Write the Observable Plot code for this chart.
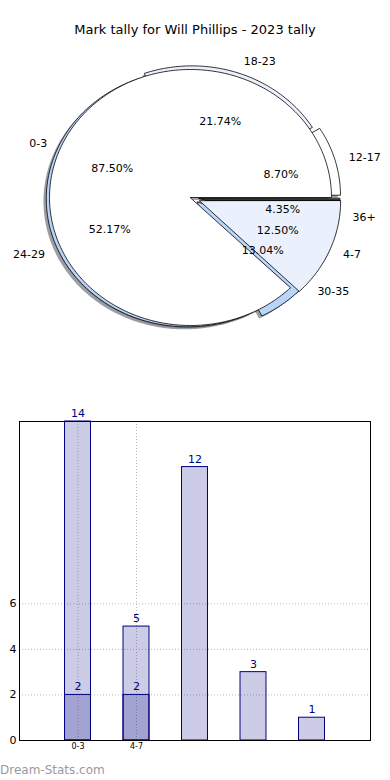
<!DOCTYPE html>
<html>
<head>
<meta charset="utf-8">
<script src="https://cdn.jsdelivr.net/npm/d3@7"></script>
<script src="https://cdn.jsdelivr.net/npm/@observablehq/plot@0.6"></script>
<style>
  html, body { margin: 0; padding: 0; background: #fff; }
  body { width: 390px; height: 780px; overflow: hidden; font-family: "DejaVu Sans", sans-serif; }
  #title { box-sizing: border-box; height: 40px; padding-top: 22px; line-height: 16px; font-size: 13px; text-align: center; color: #000; }
  #footer { height: 20px; line-height: 20px; font-size: 12px; color: #9a9a9a; padding-left: 0; }
  svg { display: block; }
</style>
</head>
<body>
<div id="title">Mark tally for Will Phillips - 2023 tally</div>
<div id="pie"></div>
<div id="bars"></div>
<div id="footer">Dream-Stats.com</div>
<script>
// ---- data ----
const pieACategories = ["0-3", "4-7"];
const pieAValues = [14, 2];
const pieBCategories = ["12-17", "18-23", "24-29", "30-35", "36+"];
const pieBValues = [2, 5, 12, 3, 1];

const barValues = [14, 5, 12, 3, 1];
const barValuesInner = [2, 2];
const barTickLabels = ["0-3", "4-7"];
const yTickValues = [0, 2, 4, 6];

// ---- styles ----
const pieAColors = ["#ffffff", "#eaf1fd"];
const pieBColors = ["#ffffff", "#eaf1fd", "#b9d5f9", "#b9d5f9", "#333333"];
const pieAExplode = [0, 0.07];
const pieBExplode = [0.066, 0.03, 0.025, 0.06, 0.06];

function slices(cats, vals, colors, explode) {
  const total = d3.sum(vals);
  let cum = 0;
  return vals.map((v, i) => {
    const a1 = cum / total * 2 * Math.PI;
    cum += v;
    const a2 = cum / total * 2 * Math.PI;
    const mid = (a1 + a2) / 2;
    const cx = explode[i] * Math.cos(mid), cy = explode[i] * Math.sin(mid);
    const pts = [{x: cx, y: cy}];
    const n = Math.max(2, Math.ceil((a2 - a1) / (Math.PI / 180)));
    for (let k = 0; k <= n; k++) {
      const a = a1 + (a2 - a1) * k / n;
      pts.push({x: cx + Math.cos(a), y: cy + Math.sin(a)});
    }
    return {
      cat: cats[i], value: v, pct: (v / total * 100).toFixed(2) + "%",
      color: colors[i], pts,
      lx: cx + 1.1 * Math.cos(mid), ly: cy + 1.1 * Math.sin(mid),
      px: cx + 0.6 * Math.cos(mid), py: cy + 0.6 * Math.sin(mid),
      side: Math.cos(mid) < 0 ? "end" : "start"
    };
  });
}

const sA = slices(pieACategories, pieAValues, pieAColors, pieAExplode);
const sB = slices(pieBCategories, pieBValues, pieBColors, pieBExplode);
const all = [...sB, ...sA];

function shadeColor(c) {
  const r = d3.rgb(c);
  return d3.rgb(r.r * 0.3, r.g * 0.3, r.b * 0.3).toString();
}

const pieMarks = [];
// shadows beneath everything
for (const s of all) {
  pieMarks.push(Plot.line(s.pts, {
    x: d => d.x - 0.02, y: d => d.y - 0.02, curve: "linear-closed",
    fill: shadeColor(s.color), fillOpacity: 0.5, stroke: "none"
  }));
}
// wedges: second pie first, then first pie on top
for (const s of all) {
  pieMarks.push(Plot.line(s.pts, {
    x: "x", y: "y", curve: "linear-closed",
    fill: s.color, stroke: "#000", strokeWidth: 0.8, strokeLinejoin: "miter"
  }));
}
pieMarks.push(Plot.text(all.filter(s => s.side === "start"), {x: "lx", y: "ly", text: "cat", textAnchor: "start", fontSize: 11, fill: "#000"}));
pieMarks.push(Plot.text(all.filter(s => s.side === "end"), {x: "lx", y: "ly", text: "cat", textAnchor: "end", fontSize: 11, fill: "#000"}));
pieMarks.push(Plot.text(all, {x: "px", y: "py", text: "pct", textAnchor: "middle", fontSize: 11, fill: "#000"}));

const pie = Plot.plot({
  width: 390, height: 340,
  marginTop: 0, marginBottom: 0, marginLeft: 0, marginRight: 0,
  x: {domain: [-190 / 141, 200 / 141], axis: null},
  y: {domain: [-(340 - 157) / 128, 157 / 128], axis: null},
  style: {fontFamily: "DejaVu Sans", background: "#fff", overflow: "visible"},
  marks: pieMarks
});
document.getElementById("pie").appendChild(pie);

// ---- bar chart ----
const outer = barValues.map((v, i) => ({pos: i + 1, value: v}));
const inner = barValuesInner.map((v, i) => ({pos: i + 1, value: v}));
const hw = 0.222;

const bars = Plot.plot({
  width: 390, height: 380,
  marginTop: 41, marginBottom: 20, marginLeft: 19, marginRight: 20,
  x: {domain: [0, 6]},
  y: {domain: [0, 14]},
  style: {fontFamily: "DejaVu Sans", background: "#fff", overflow: "visible"},
  marks: [
    Plot.ruleY(yTickValues, {stroke: "#b8b8b8", strokeDasharray: "1,2", strokeWidth: 1}),
    Plot.ruleX(barTickLabels.map((d, i) => i + 1), {y1: 0, y2: 14, stroke: "#b8b8b8", strokeDasharray: "1,2", strokeWidth: 1}),
    Plot.rect(outer, {x1: d => d.pos - hw, x2: d => d.pos + hw, y1: 0, y2: "value", fill: "#000080", fillOpacity: 0.2, stroke: "#000080", strokeWidth: 1}),
    Plot.rect(inner, {x1: d => d.pos - hw, x2: d => d.pos + hw, y1: 0, y2: "value", fill: "#000080", fillOpacity: 0.2, stroke: "#000080", strokeWidth: 1}),
    Plot.text(outer, {x: "pos", y: "value", text: d => String(d.value), dy: -8, fill: "#000080", fontSize: 11}),
    Plot.text(inner, {x: "pos", y: "value", text: d => String(d.value), dy: -8, fill: "#000080", fontSize: 11}),
    Plot.frame({stroke: "#000", strokeWidth: 1}),
    Plot.axisY({ticks: yTickValues, tickSize: 0, tickPadding: 3, fontSize: 11, label: null}),
    Plot.axisX({ticks: barTickLabels.map((d, i) => i + 1), tickFormat: d => barTickLabels[d - 1], tickSize: 0, tickPadding: 3, fontSize: 8, label: null})
  ]
});
document.getElementById("bars").appendChild(bars);
</script>
</body>
</html>
